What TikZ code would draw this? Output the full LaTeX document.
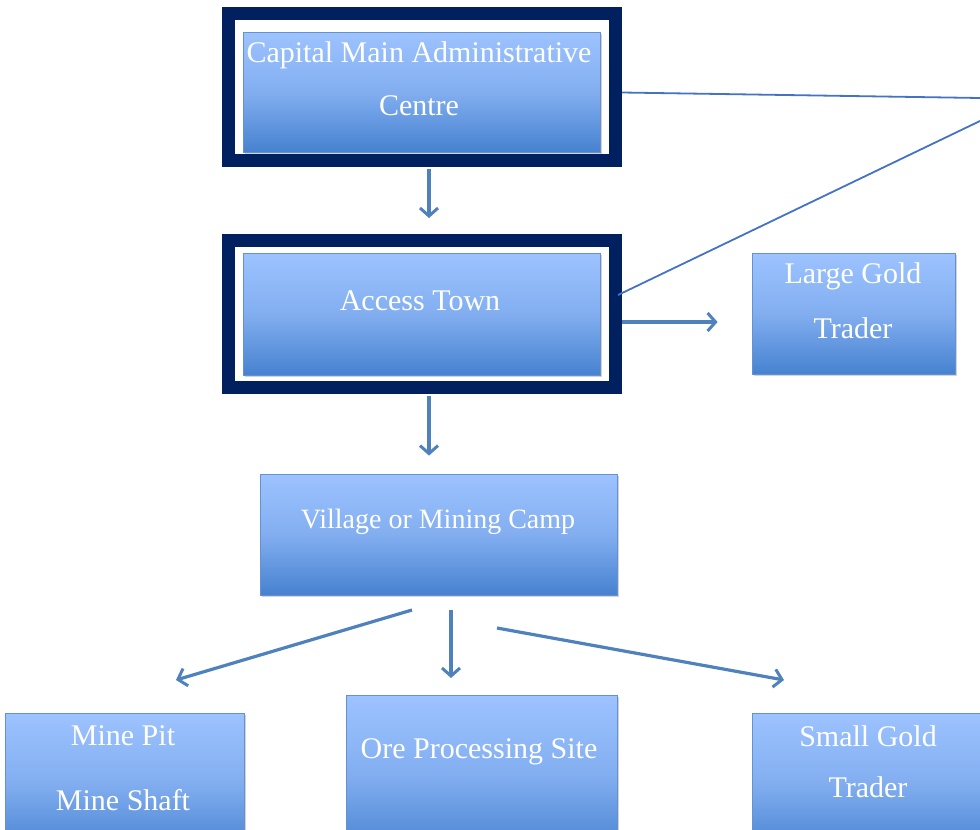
\documentclass[tikz,border=0pt]{standalone}
\usepackage{fontspec}
\setmainfont{Liberation Serif}
\usetikzlibrary{arrows.meta,shadows,calc}
\definecolor{navy}{RGB}{0,32,96}
\definecolor{boxtop}{RGB}{157,195,255}
\definecolor{boxmid}{RGB}{130,174,240}
\definecolor{boxbot}{RGB}{70,130,208}
\definecolor{boxline}{RGB}{100,145,210}
\definecolor{arrblue}{RGB}{79,129,189}
\definecolor{lineblue}{RGB}{68,114,196}
\tikzset{
  frame/.style={draw=navy, line width=13, fill=white, rectangle, inner sep=0pt},
  box/.style={rectangle, draw=boxline, line width=0.8, top color=boxtop, bottom color=boxbot, middle color=boxmid, inner sep=0pt, drop shadow={shadow xshift=1.5pt, shadow yshift=-2pt, opacity=0.35}},
  lbl/.style={text=white, font=\fontsize{30}{36}\selectfont, inner sep=0pt, yshift=-3pt},
  arr/.style={draw=arrblue, line width=3.2, -{Straight Barb[length=8pt,width=18pt,line width=3]}},
  thinline/.style={draw=lineblue, line width=1.8}
}
\begin{document}
\begin{tikzpicture}[x=1pt,y=-1pt]
\useasboundingbox (0,0) rectangle (980,830);
\clip (0,0) rectangle (980,830);
% frames
\node[frame, minimum width=387, minimum height=147] (capf) at (422,86.5) {};
\node[frame, minimum width=387, minimum height=147] (accf) at (422,314) {};
% boxes
\node[box, minimum width=357, minimum height=120] (cap) at (421.5,92) {};
\node[box, minimum width=357, minimum height=122] (acc) at (421.5,314) {};
\node[box, minimum width=203, minimum height=121] (large) at (853.5,313.5) {};
\node[box, minimum width=357, minimum height=121] (village) at (438.5,534.5) {};
\node[box, minimum width=239, minimum height=140] (mine) at (124.5,783) {};
\node[box, minimum width=271, minimum height=160] (ore) at (481.5,775) {};
\node[box, minimum width=250, minimum height=140] (small) at (877,783) {};
% labels
\node[lbl] (t1) at (419,52) {Capital Main Administrative};
\node[lbl] (t2) at (419,103) {Centre};
\node[lbl] (t3) at (420,298) {Access Town};
\node[lbl] (t4) at (853,273) {Large Gold};
\node[lbl] (t5) at (853,325) {Trader};
\node[lbl, font=\fontsize{28}{34}\selectfont] (t6) at (438,519) {Village or Mining Camp};
\node[lbl] (t7) at (123,733) {Mine Pit};
\node[lbl] (t8) at (123,797) {Mine Shaft};
\node[lbl] (t9) at (479,749) {Ore Processing Site};
\node[lbl] (t10) at (868,733) {Small Gold};
\node[lbl] (t11) at (868,784) {Trader};
% free ends
\coordinate (e1) at (980,98);
\coordinate (e2) at (980,121);
\coordinate (a1s) at (412,610);
\coordinate (a1e) at (176,680);
\coordinate (a2s) at (451,610);
\coordinate (a2e) at (451,678);
\coordinate (a3s) at (497,628);
\coordinate (a3e) at (784,680);
% thin lines
\draw[thinline] ([yshift=-6]capf.east) -- (e1);
\draw[thinline] ([xshift=-4,yshift=19]accf.east) -- (e2);
% arrows
\draw[arr, shorten <=2, shorten >=16] ([xshift=7]capf.south) -- ([xshift=7]accf.north);
\draw[arr, shorten <=2, shorten >=18] ([xshift=7]accf.south) -- ([xshift=-9.5]village.north);
\draw[arr, shorten >=34] ([yshift=-8]accf.east) -- ([yshift=-8.5]large.west);
\draw[arr] (a1s) -- (a1e);
\draw[arr] (a2s) -- (a2e);
\draw[arr] (a3s) -- (a3e);
\end{tikzpicture}
\end{document}
